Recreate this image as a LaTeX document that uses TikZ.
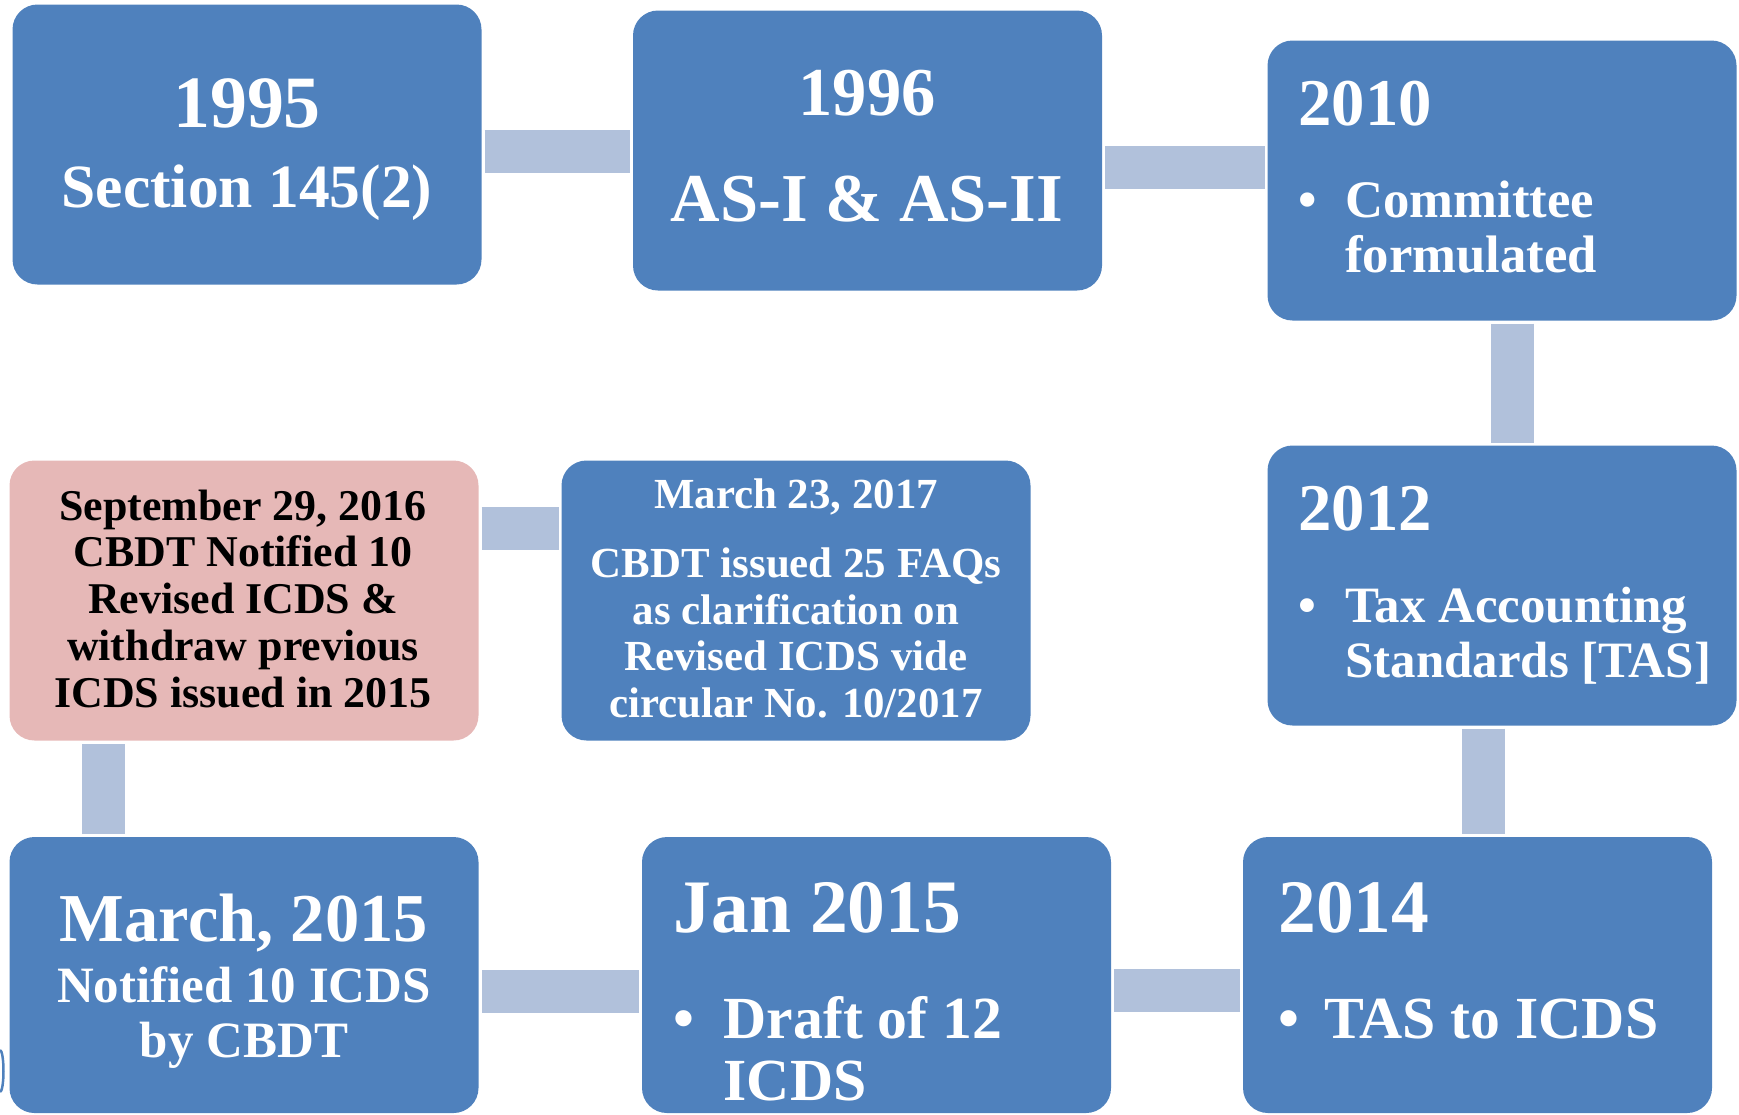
\documentclass[tikz,border=0pt]{standalone}
\usepackage{fontspec}
\setmainfont{Liberation Serif}
\definecolor{boxblue}{RGB}{79,129,189}
\definecolor{barblue}{RGB}{177,193,219}
\definecolor{boxpink}{RGB}{230,184,183}
\newcommand{\bulletmark}[1]{\makebox[#1][l]{\textbullet}}

\begin{document}
\begin{tikzpicture}[
  box/.style={rectangle, rounded corners=0.25cm, fill=boxblue, minimum width=4.69cm,
    minimum height=2.8cm, inner sep=0pt, outer sep=0pt},
  bar/.style={draw=barblue, line width=0.43cm, shorten <=0.03cm, shorten >=0.03cm},
  txt/.style={inner sep=0pt, text=white},
]
\useasboundingbox (0,0) rectangle (17.39,-11.14);

% boxes
\foreach \nm/\x/\y in {n1995/2.47/-1.445, n1996/8.675/-1.505, n2010/15.02/-1.805,
                       n2012/15.02/-5.855, mar17/7.96/-6.005}
  \node[box] (\nm) at (\x,\y) {};
\node[box, fill=boxpink] (sep16) at (2.44,-6.005) {};
\foreach \nm/\x in {mar15/2.44, jan15/8.765, n2014/14.775}
  \node[box, minimum height=2.76cm] (\nm) at (\x,-9.75) {};

% bars
\draw[bar] ([yshift=-0.065cm]n1995.east) coordinate (p) -- (p -| n1996.west);
\draw[bar] ([yshift=-0.17cm]n1996.east) coordinate (p) -- (p -| n2010.west);
\draw[bar] ([xshift=0.105cm]n2010.south) coordinate (p) -- (p |- n2012.north);
\draw[bar] ([xshift=-0.185cm]n2012.south) coordinate (p) -- (p |- n2014.north);
\draw[bar] ([yshift=-0.155cm]n2014.west) coordinate (p) -- (p -| jan15.east);
\draw[bar] ([yshift=-0.16cm]jan15.west) coordinate (p) -- (p -| mar15.east);
\draw[bar] ([xshift=-1.405cm]mar15.north) coordinate (p) -- (p |- sep16.south);
\draw[bar] ([yshift=0.72cm]sep16.east) coordinate (p) -- (p -| mar17.west);

% texts
\node[txt, anchor=north, align=center, font=\bfseries\fontsize{17.5}{22.8}\selectfont]
  (t1995) at (2.47,-0.78) {{\fontsize{21}{22}\selectfont 1995}\\Section 145(2)};
\node[txt, anchor=north, align=center, font=\bfseries\fontsize{19.5}{30.4}\selectfont]
  (t1996) at (8.67,-0.69) {1996\\AS-I \& AS-II};
\node[txt, anchor=north west, align=left, font=\bfseries\fontsize{15}{15.6}\selectfont]
  (t2010) at (12.975,-0.80) {{\fontsize{19}{20}\selectfont 2010}\\[10.6pt]
  \bulletmark{0.47cm}Committee\\\hspace*{0.47cm}formulated};
\node[txt, anchor=north west, align=left, font=\bfseries\fontsize{14.5}{15.6}\selectfont]
  (t2012) at (12.975,-4.85) {{\fontsize{19}{20}\selectfont 2012}\\[10.6pt]
  \bulletmark{0.47cm}Tax Accounting\\\hspace*{0.47cm}Standards [TAS]};
\node[txt, anchor=north west, align=left, font=\bfseries\fontsize{17}{29.9}\selectfont]
  (t2014) at (12.775,-8.82) {{\fontsize{21.5}{22}\selectfont 2014}\\
  \bulletmark{0.46cm}TAS to ICDS};
\node[txt, anchor=north west, align=left, font=\bfseries\fontsize{17}{17.9}\selectfont]
  (tjan15) at (6.73,-8.82) {{\fontsize{21.5}{22}\selectfont Jan 2015}\\[12pt]
  \bulletmark{0.5cm}Draft of 12\\\hspace*{0.5cm}ICDS};
\node[txt, anchor=north, align=center, font=\bfseries\fontsize{14.5}{15.6}\selectfont]
  (tmar15) at (2.44,-8.93) {{\fontsize{19.5}{20}\selectfont March, 2015}\\[1.8pt]
  Notified 10 ICDS\\by CBDT};
\node[txt, text=black, anchor=north, align=center, font=\bfseries\fontsize{12.5}{13.3}\selectfont]
  (tsep16) at (2.43,-4.89) {September 29, 2016\\CBDT Notified 10\\Revised ICDS \&\\
  withdraw previous\\ICDS issued in 2015};
\node[txt, anchor=north, align=center, font=\bfseries\fontsize{12.2}{13.3}\selectfont]
  (tmar17) at (7.96,-4.78) {March 23, 2017\\[6.3pt]CBDT issued 25 FAQs\\
  as clarification on\\Revised ICDS vide\\circular No. 10/2017};

% cut-off mark at the left edge
\draw[boxblue, line width=0.025cm] (0,-10.50) arc[start angle=90, end angle=-90,
  x radius=0.035, y radius=0.21];
\end{tikzpicture}
\end{document}
